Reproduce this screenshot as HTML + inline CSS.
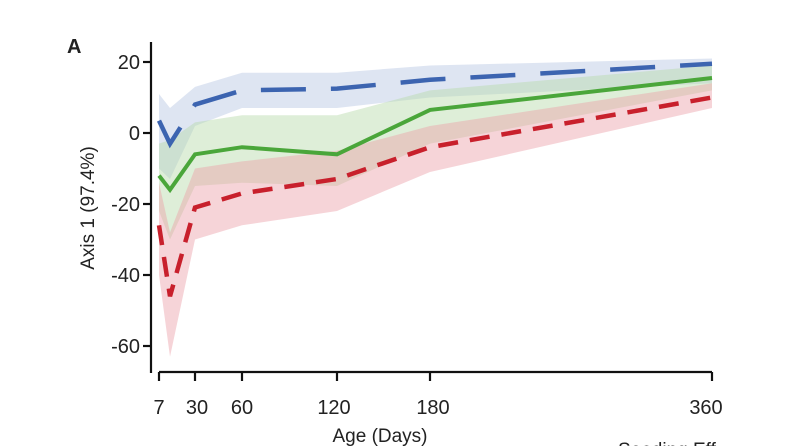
<!DOCTYPE html>
<html><head><meta charset="utf-8"><style>
html,body{margin:0;padding:0;background:#fff;width:792px;height:446px;overflow:hidden}
text{font-family:"Liberation Sans",Arial,sans-serif;fill:#222}
</style></head><body>
<svg width="792" height="446" viewBox="0 0 792 446" xmlns="http://www.w3.org/2000/svg">
<polygon fill="#a8badd" fill-opacity="0.38" points="159,94 170,108 195,86.9 242,72.7 337,72.7 430,65.5 712,58.5 712,83.3 430,97.5 337,108 242,108 195,126 170,179 159,168.5"/>
<polygon fill="#b5d9a8" fill-opacity="0.45" points="159,143.6 170,140 195,122.4 242,115.3 337,115.3 430,90.4 712,65.5 712,90.4 430,143.6 337,186 242,182.7 195,186 170,239.5 159,211"/>
<polygon fill="#eaa0a8" fill-opacity="0.45" points="159,182.7 170,232.4 195,168.5 242,161.4 337,150.8 430,126 712,83.3 712,108 430,172 337,211 242,225.3 195,239.5 170,356.7 159,275"/>
<polyline fill="none" stroke="#3c64b0" stroke-width="4.5" stroke-dasharray="45,25" points="159,120.6 170,143.7 195,104.6 242,90.4 337,88.6 430,79.8 712,63.8"/>
<polyline fill="none" stroke="#4aa63a" stroke-width="4" points="159,175.6 170,189.8 195,154.3 242,147.2 337,154.3 430,109.9 712,78"/>
<polyline fill="none" stroke="#c8202c" stroke-width="4.5" stroke-dasharray="20,12" points="159,225.3 170,296.3 195,207.5 242,193.4 337,179 430,147.2 712,97.5"/>
<g stroke="#111" stroke-width="2.2" fill="none">
<line x1="151" y1="42" x2="151" y2="373"/>
<line x1="143" y1="62" x2="151" y2="62"/>
<line x1="143" y1="133" x2="151" y2="133"/>
<line x1="143" y1="204" x2="151" y2="204"/>
<line x1="143" y1="275" x2="151" y2="275"/>
<line x1="143" y1="346" x2="151" y2="346"/>
<line x1="159" y1="372" x2="712" y2="372"/>
<line x1="159" y1="372" x2="159" y2="381"/>
<line x1="195" y1="372" x2="195" y2="381"/>
<line x1="242" y1="372" x2="242" y2="381"/>
<line x1="337" y1="372" x2="337" y2="381"/>
<line x1="430" y1="372" x2="430" y2="381"/>
<line x1="712" y1="372" x2="712" y2="381"/>
</g>
<g font-size="20" text-anchor="end">
<text x="140" y="69">20</text>
<text x="140" y="140">0</text>
<text x="140" y="211">-20</text>
<text x="140" y="282">-40</text>
<text x="140" y="353">-60</text>
</g>
<g font-size="20" text-anchor="middle">
<text x="159" y="414">7</text>
<text x="197" y="414">30</text>
<text x="242" y="414">60</text>
<text x="334" y="414">120</text>
<text x="433" y="414">180</text>
<text x="706" y="414">360</text>
<text x="380" y="442" font-size="19">Age (Days)</text>
</g>
<text x="94" y="208" font-size="19" text-anchor="middle" transform="rotate(-90 94 208)">Axis 1 (97.4%)</text>
<text x="67" y="53" font-size="20" font-weight="bold" fill="#000">A</text>
<text x="618" y="456" font-size="19">Seeding Eff</text>
</svg>
</body></html>
